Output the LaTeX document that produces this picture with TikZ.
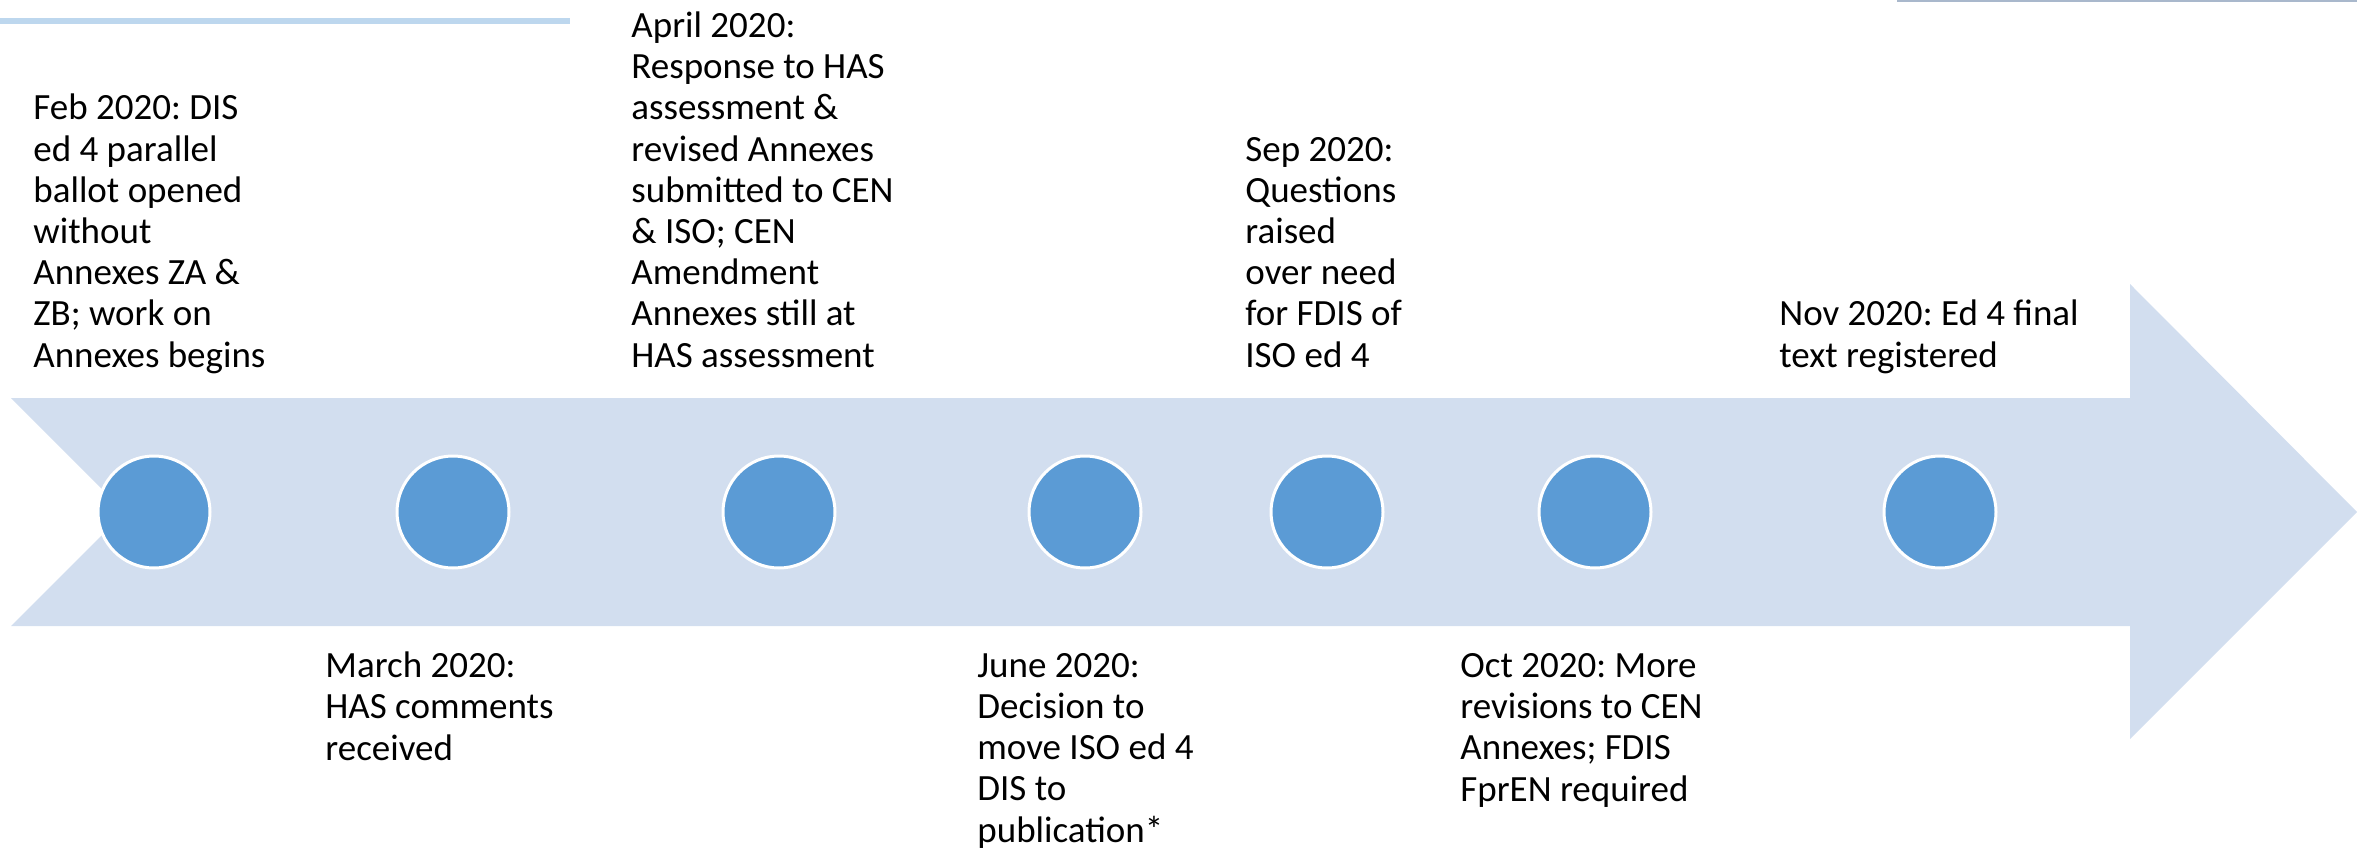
\documentclass[tikz,border=0pt]{standalone}
\usepackage{fontspec}
\setmainfont{Carlito}
\frenchspacing
\definecolor{arrowfill}{HTML}{D2DEEF}
\definecolor{dotfill}{HTML}{5B9BD5}
\definecolor{ruleblue}{HTML}{BDD7EE}
\definecolor{rulegrey}{HTML}{A9B8CC}
\tikzset{
  milestone/.style={circle, fill=dotfill, draw=white, line width=1.5pt,
    minimum size=56pt, inner sep=0pt},
  event/.style={align=left, inner sep=0pt, anchor=base west,
    font=\fontsize{18.5pt}{20.6pt}\selectfont, text=black},
}
\begin{document}
\begin{tikzpicture}[x=0.5pt, y=-0.5pt]
  \useasboundingbox (0,0) rectangle (2357,857);
  % decorative rules at the top
  \fill[ruleblue] (0,18) rectangle (570,24);
  \fill[rulegrey] (1897,0) rectangle (2357,2);
  % the timeline arrow with a notched tail
  \fill[arrowfill] (11,398) -- (2130,398) -- (2130,284) -- (2357,512)
    -- (2130,739) -- (2130,626) -- (11,626) -- (125,512) -- cycle;
  % milestones
  \node[milestone] (m1) at (154,512) {};
  \node[milestone] (m2) at (453,512) {};
  \node[milestone] (m3) at (779,512) {};
  \node[milestone] (m4) at (1085,512) {};
  \node[milestone] (m5) at (1327,512) {};
  \node[milestone] (m6) at (1595,512) {};
  \node[milestone] (m7) at (1940,512) {};
  % event descriptions (placed by the baseline of their last line)
  \node[event] (t1) at (33,367) {Feb 2020: DIS\\ed 4 parallel\\ballot opened\\without\\Annexes ZA \&\\ZB; work on\\Annexes begins};
  \node[event] (t2) at (325,760) {March 2020:\\HAS comments\\received};
  \node[event] (t3) at (631,367) {April 2020:\\Response to HAS\\assessment \&\\revised Annexes\\submitted to CEN\\\& ISO; CEN\\Amendment\\Annexes still at\\HAS assessment};
  \node[event] (t4) at (977,842) {June 2020:\\Decision to\\move ISO ed 4\\DIS to\\publication*};
  \node[event] (t5) at (1245,367) {Sep 2020:\\Questions\\raised\\over need\\for FDIS of\\ISO ed 4};
  \node[event] (t6) at (1460,801) {Oct 2020: More\\revisions to CEN\\Annexes; FDIS\\FprEN required};
  \node[event] (t7) at (1779,367) {Nov 2020: Ed 4 final\\text registered};
\end{tikzpicture}
\end{document}
